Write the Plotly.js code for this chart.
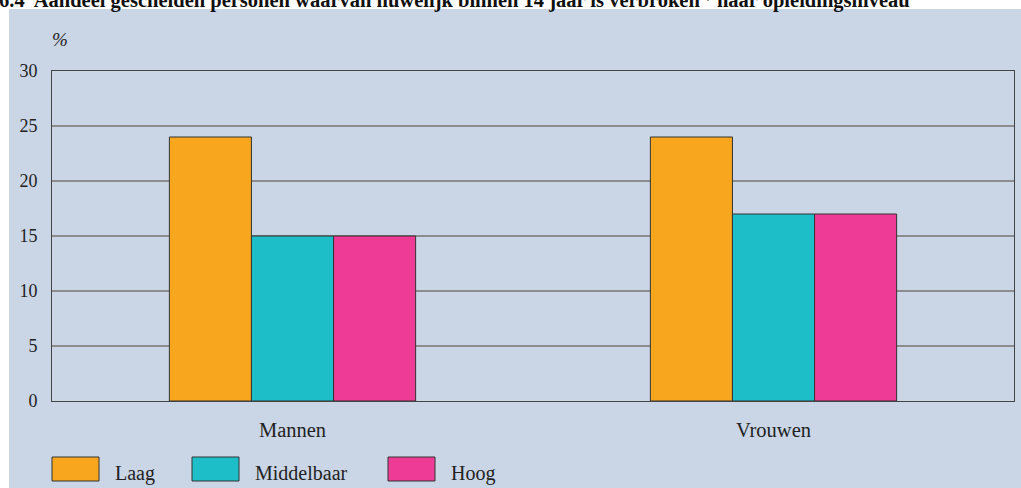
<!DOCTYPE html>
<html>
<head>
<meta charset="utf-8">
<script src="https://cdn.plot.ly/plotly-3.0.1.min.js"></script>
<style>html,body{margin:0;padding:0;background:#fff;}#chart{width:1021px;height:488px;}</style>
</head>
<body>
<div id="chart"></div>
<script>
// ---- data ----
const categories = ["Mannen", "Vrouwen"];
const seriesNames = ["Laag", "Middelbaar", "Hoog"];
const laag = [24, 24];
const middelbaar = [15, 17];
const hoog = [15, 17];
const yTicks = [0, 5, 10, 15, 20, 25, 30];
const titleText = "6.4  Aandeel gescheiden personen waarvan huwelijk binnen 14 jaar is verbroken<sup>1)</sup> naar opleidingsniveau";
const unitLabel = "%";

// ---- style ----
const colors = ["#f7a61d", "#1dbec8", "#ee3b95"];
const W = 1021, H = 488;
const M = {l: 52, r: 7, t: 71, b: 87};
const pw = W - M.l - M.r, ph = H - M.t - M.b;
const px = X => (X - M.l) / pw;
const py = Y => (H - M.b - Y) / ph;
const FONT = "Liberation Serif";
const legendX = [52, 192, 388];

const values = [laag, middelbaar, hoog];
const traces = values.map((v, i) => ({
  type: "bar",
  x: categories,
  y: v,
  name: seriesNames[i],
  marker: {color: colors[i], line: {color: "#333", width: 1}},
  showlegend: false,
  hoverinfo: "x+y+name"
}));

const shapes = [{
  type: "rect", xref: "paper", yref: "paper", layer: "below",
  x0: px(9), x1: px(1030), y0: py(495), y1: py(9),
  fillcolor: "#cad6e6", line: {width: 0}
}];
const annotations = [{
  xref: "paper", yref: "paper", x: px(-3), y: py(-1), xanchor: "left", yanchor: "middle",
  text: "<b>" + titleText + "</b>", showarrow: false,
  font: {family: FONT, size: 20.5, color: "#111"}
}, {
  xref: "paper", yref: "paper", x: px(60), y: py(40), xanchor: "center", yanchor: "middle",
  text: "<i>" + unitLabel + "</i>", showarrow: false,
  font: {family: FONT, size: 19, color: "#222"}
}];
seriesNames.forEach((n, i) => {
  const x0 = legendX[i];
  shapes.push({
    type: "rect", xref: "paper", yref: "paper",
    x0: px(x0), x1: px(x0 + 47), y0: py(481), y1: py(457),
    fillcolor: colors[i], line: {color: "#333", width: 1}
  });
  annotations.push({
    xref: "paper", yref: "paper", x: px(x0 + 61), y: py(473), xanchor: "left", yanchor: "middle",
    text: n, showarrow: false,
    font: {family: FONT, size: 20, color: "#222"}
  });
});

const layout = {
  width: W, height: H,
  margin: M,
  paper_bgcolor: "rgba(0,0,0,0)",
  plot_bgcolor: "#ffffff",
  barmode: "group",
  bargap: 0.488,
  bargroupgap: 0,
  font: {family: FONT, size: 18, color: "#222"},
  xaxis: {
    type: "category",
    showline: true, mirror: true, linecolor: "#444", linewidth: 1,
    showgrid: false, ticks: "", ticklabelstandoff: 10,
    tickfont: {family: FONT, size: 20.5, color: "#222"},
    fixedrange: true
  },
  yaxis: {
    range: [0, 30],
    tickvals: yTicks,
    showline: true, mirror: true, linecolor: "#444", linewidth: 1,
    showgrid: true, gridcolor: "#8c8c8c", gridwidth: 1.3,
    zeroline: false, ticks: "", ticklabelstandoff: 10,
    tickfont: {family: FONT, size: 18, color: "#222"},
    fixedrange: true
  },
  shapes: shapes,
  annotations: annotations
};

Plotly.newPlot("chart", traces, layout, {displayModeBar: false, staticPlot: true});
</script>
</body>
</html>
